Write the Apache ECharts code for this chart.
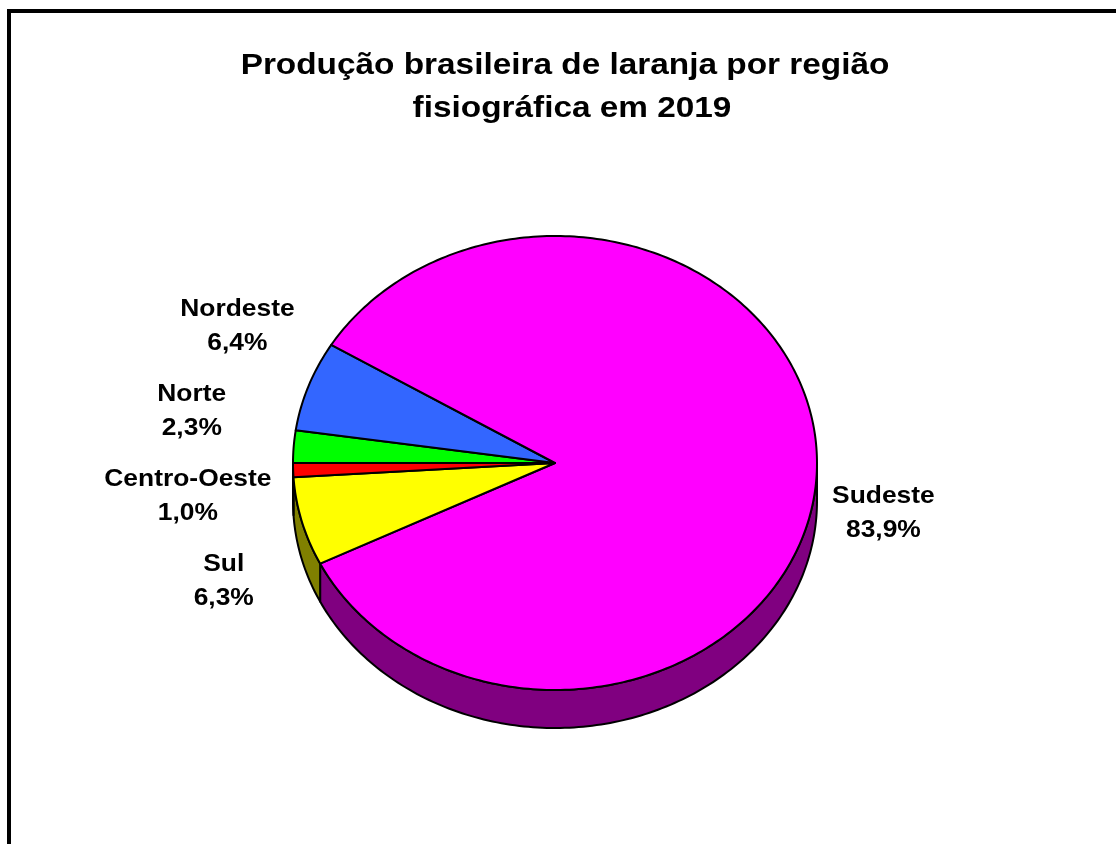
<!DOCTYPE html>
<html>
<head>
<meta charset="utf-8">
<script src="https://cdn.jsdelivr.net/npm/echarts@6/dist/echarts.min.js"></script>
<style>
  html, body { margin: 0; padding: 0; background: #ffffff; }
  #chart { width: 1116px; height: 844px; }
</style>
</head>
<body>
<div id="chart"></div>
<script>
// Orange production by physiographic region, 2019 (share of national total, %)
const regions = ['Norte', 'Nordeste', 'Sudeste', 'Sul', 'Centro-Oeste'];
const shares = [2.3, 6.4, 83.9, 6.3, 1.0];
const topColors = ['#00FF00', '#3366FF', '#FF00FF', '#FFFF00', '#FF0000'];
const sideColors = ['#008000', '#1A3380', '#800080', '#808000', '#800000'];
const titleLines = ['Produção brasileira de laranja por região', 'fisiográfica em 2019'];

// Tilted pie geometry: centre, radii of the top face, wall depth, first-slice angle
// (angles run clockwise from 12 o'clock)
const CX = 555, CY = 463, RX = 262, RY = 227, DEPTH = 38, START = 270;
const LABEL_FONT = '"Liberation Sans", Arial, sans-serif';

const total = shares.reduce((a, b) => a + b, 0);

function sliceAngles(i) {
  let before = 0;
  for (let k = 0; k < i; k++) before += shares[k];
  const a1 = START + 360 * before / total;
  return [a1, a1 + 360 * shares[i] / total];
}

function rimPoint(deg, dy) {
  const r = deg * Math.PI / 180;
  return [CX + RX * Math.sin(r), CY - RY * Math.cos(r) + (dy || 0)];
}

function rimArc(a1, a2, dy) {
  const n = Math.max(2, Math.ceil(Math.abs(a2 - a1)));
  const pts = [];
  for (let j = 0; j <= n; j++) pts.push(rimPoint(a1 + (a2 - a1) * j / n, dy));
  return pts;
}

// Part of a slice whose outer wall faces the viewer (front half: 90°..270°)
function frontRanges(a1, a2) {
  const out = [];
  for (let k = 0; k <= 1; k++) {
    const lo = Math.max(a1, 90 + 360 * k);
    const hi = Math.min(a2, 270 + 360 * k);
    if (hi > lo) out.push([lo, hi]);
  }
  return out;
}

function ellipseX(y, side) {
  const t = Math.min(1, Math.abs(y - CY) / RY);
  return CX + side * RX * Math.sqrt(1 - t * t);
}

// Outside labels: start near each slice's mid-angle, then spread each side's
// column so the two-line blocks do not collide.
const LABEL_GAP = 85;
const labelPos = (function () {
  const items = shares.map((v, i) => {
    const [a1, a2] = sliceAngles(i);
    const r = ((a1 + a2) / 2) * Math.PI / 180;
    const side = Math.sin(r) < 0 ? -1 : 1;
    let y = CY - (RY + 60) * Math.cos(r);
    if (side > 0 && Math.cos(r) < 0) y += DEPTH;
    return { i, side, y };
  });
  [-1, 1].forEach(side => {
    const list = items.filter(o => o.side === side).sort((a, b) => a.y - b.y);
    let clusters = list.map(o => ({ items: [o], c: o.y }));
    let merged = true;
    while (merged) {
      merged = false;
      for (let k = 0; k < clusters.length - 1; k++) {
        const A = clusters[k], B = clusters[k + 1];
        const aBottom = A.c + (A.items.length - 1) * LABEL_GAP / 2;
        const bTop = B.c - (B.items.length - 1) * LABEL_GAP / 2;
        if (bTop - aBottom < LABEL_GAP) {
          const all = A.items.concat(B.items);
          const c = all.reduce((s, o) => s + o.y, 0) / all.length;
          clusters.splice(k, 2, { items: all, c });
          merged = true;
          break;
        }
      }
    }
    clusters.forEach(cl => {
      cl.items.forEach((o, j) => {
        o.fy = cl.c + (j - (cl.items.length - 1) / 2) * LABEL_GAP;
      });
    });
  });
  const pos = [];
  items.forEach(o => {
    const x = side => ellipseX(o.fy, side);
    pos[o.i] = [o.side < 0 ? x(-1) - 108 : x(1) + 73, o.fy];
  });
  return pos;
})();

function fmtPct(v) {
  return v.toFixed(1).replace('.', ',') + '%';
}

const chart = echarts.init(document.getElementById('chart'), null, { renderer: 'canvas' });

chart.setOption({
  backgroundColor: '#ffffff',
  animation: false,
  graphic: [
    {
      type: 'rect',
      silent: true,
      shape: { x: 9, y: 11, width: 1200, height: 1000 },
      style: { fill: 'transparent', stroke: '#000000', lineWidth: 4 }
    },
    {
      type: 'text',
      x: 565, y: 66, scaleX: 1.15,
      style: {
        text: titleLines[0], fill: '#000000',
        fontSize: 29, fontWeight: 'bold', fontFamily: LABEL_FONT,
        align: 'center', verticalAlign: 'middle'
      }
    },
    {
      type: 'text',
      x: 572, y: 109, scaleX: 1.15,
      style: {
        text: titleLines[1], fill: '#000000',
        fontSize: 29, fontWeight: 'bold', fontFamily: LABEL_FONT,
        align: 'center', verticalAlign: 'middle'
      }
    }
  ],
  series: [{
    type: 'custom',
    coordinateSystem: 'none',
    silent: true,
    data: shares.map((v, i) => ({ name: regions[i], value: v })),
    renderItem: function (params, api) {
      const i = params.dataIndex;
      const value = api.value(0);
      const [a1, a2] = sliceAngles(i);
      const children = [];

      // outer wall
      frontRanges(a1, a2).forEach(([lo, hi]) => {
        const pts = rimArc(lo, hi, 0).concat(rimArc(hi, lo, DEPTH));
        children.push({
          type: 'polygon', z2: 1,
          shape: { points: pts },
          style: { fill: sideColors[i], stroke: '#000000', lineWidth: 2, lineJoin: 'round' }
        });
      });

      // top face
      children.push({
        type: 'polygon', z2: 5,
        shape: { points: [[CX, CY]].concat(rimArc(a1, a2, 0)) },
        style: { fill: topColors[i], stroke: '#000000', lineWidth: 2, lineJoin: 'round' }
      });

      // label
      const lp = labelPos[i];
      children.push({
        type: 'text', z2: 10,
        x: lp[0], y: lp[1], scaleX: 1.1,
        style: {
          text: regions[i] + '\n' + fmtPct(value),
          fill: '#000000',
          fontSize: 24, fontWeight: 'bold', fontFamily: LABEL_FONT,
          lineHeight: 34,
          align: 'center', verticalAlign: 'middle'
        }
      });

      return { type: 'group', children: children };
    }
  }]
});
</script>
</body>
</html>
